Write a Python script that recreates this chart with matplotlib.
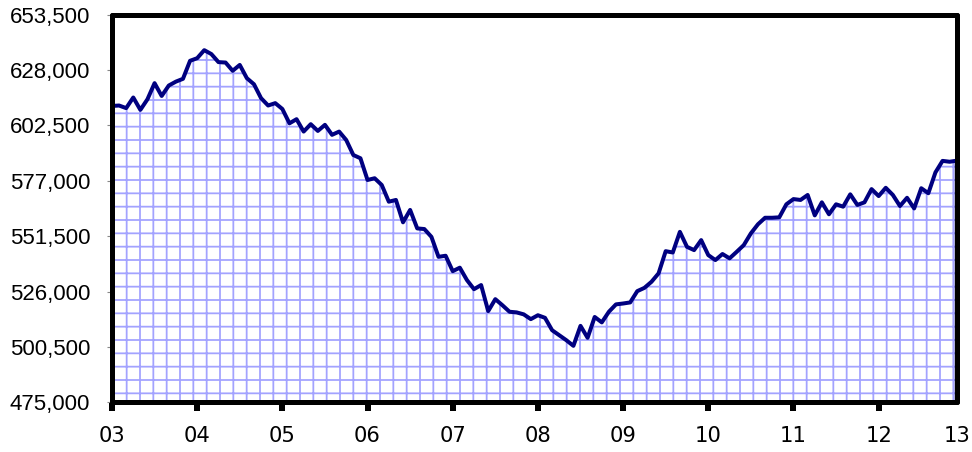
import numpy as np
import matplotlib
matplotlib.use('Agg')
import matplotlib.pyplot as plt
from matplotlib.ticker import FuncFormatter

# monthly values, Jan 2003 .. Dec 2012
values = [
    611500, 611700, 610500, 615400, 609700, 614600, 622000, 616100, 620900, 622700, 624000, 632300,
    633500, 637200, 635400, 631700, 631500, 627700, 630400, 624300, 621500, 615100, 611700, 612800,
    610100, 603500, 605400, 599700, 603100, 600000, 602800, 598200, 599700, 595800, 588900, 587400,
    577400, 578200, 575100, 567400, 568200, 557900, 563600, 555100, 554800, 551200, 542000, 542500,
    535400, 537000, 531300, 527100, 529000, 517000, 522500, 519700, 516700, 516400, 515500, 513300,
    515100, 513900, 508200, 505900, 503600, 501000, 510200, 504700, 514300, 511800, 516700, 520100,
    520500, 521000, 526200, 527700, 530500, 534400, 544600, 544000, 553500, 546600, 545100, 549700,
    542800, 540500, 543300, 541300, 544300, 547400, 552800, 557000, 560000, 560000, 560200, 566200,
    568600, 568200, 570500, 561100, 567100, 561600, 566200, 565100, 570800, 565900, 567100, 573200,
    570000, 573800, 570500, 565400, 569200, 564300, 573600, 571300, 580900, 586200, 585800, 586300,
]
year_labels = ['03', '04', '05', '06', '07', '08', '09', '10', '11', '12', '13']
y_min, y_max, y_step = 475000, 653500, 25500

plt.rcParams['hatch.linewidth'] = 1.6

x = np.arange(len(values))
fig = plt.figure(figsize=(972 / 80, 452 / 80), dpi=80)
ax = fig.add_axes([0.1152, 0.11, 0.8691, 0.8573])

ax.fill_between(x, values, y_min, facecolor='white', edgecolor='#a3a3ff',
                hatch='+', linewidth=0, zorder=1)
# outline of the area (top line plus both ends)
ox = np.concatenate([[x[0]], x, [x[-1]]])
oy = np.concatenate([[y_min], values, [y_min]])
ax.plot(ox, oy, color='#000080', lw=3.6, solid_joinstyle='round', zorder=2)

ax.set_xlim(x[0], x[-1])
ax.set_ylim(y_min, y_max)

xt = list(range(0, len(values), 12)) + [len(values) - 1]
ax.set_xticks(xt)
ax.set_xticklabels(year_labels[:len(xt)], fontfamily='DejaVu Sans', fontsize=19)
ax.xaxis.get_major_ticks()[-1].tick1line.set_visible(False)
ax.tick_params(axis='x', length=8, width=5.4, color='black', pad=13)

ax.set_yticks(np.arange(y_min, y_max + 1, y_step))
ax.yaxis.set_major_formatter(FuncFormatter(lambda v, p: f'{v:,.0f}'))
for t in ax.get_yticklabels():
    t.set_fontfamily('Liberation Sans')
    t.set_fontsize(20)
ax.tick_params(axis='y', length=4.5, width=1, color='#888888', pad=15)

for s in ax.spines.values():
    s.set_linewidth(4.5)
    s.set_color('black')
    s.set_zorder(5)
    s.set_capstyle('round')

fig.savefig('out.png', dpi=80)
